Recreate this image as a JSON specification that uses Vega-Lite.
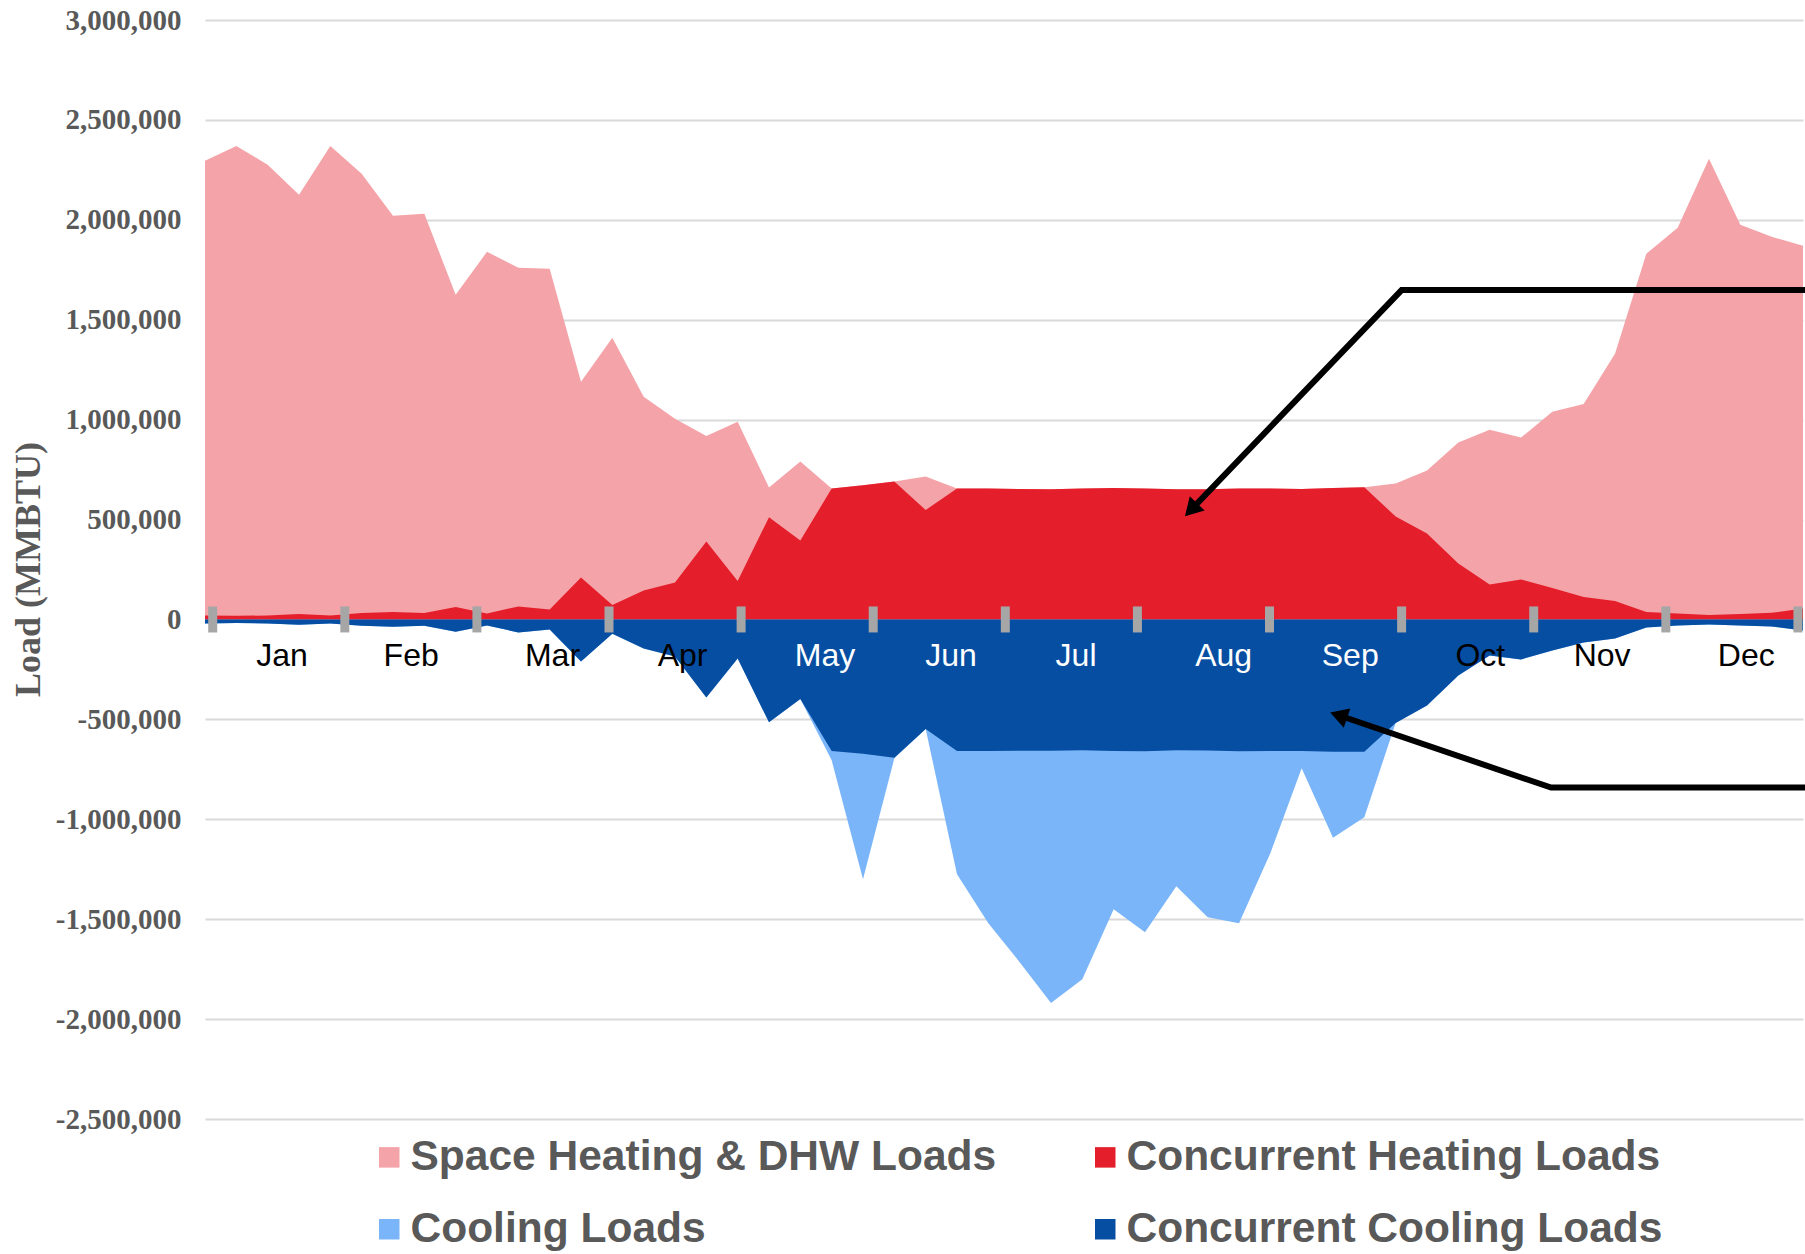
{
  "$schema": "https://vega.github.io/schema/vega-lite/v6.json",
  "width": 1598,
  "height": 1099,
  "autosize": {"type": "none"},
  "padding": {"left": 205, "top": 20, "right": 2, "bottom": 135},
  "background": "white",
  "config": {
    "view": {"stroke": null},
    "font": "Liberation Sans",
    "axisY": {
      "grid": true, "gridColor": "#D9D9D9", "gridWidth": 2,
      "domain": false, "ticks": false,
      "labelFont": "Liberation Serif", "labelFontWeight": "bold", "labelFontSize": 29,
      "labelColor": "#595959", "labelPadding": 24,
      "titleFont": "Liberation Serif", "titleFontSize": 36, "titleFontWeight": "bold",
      "titleColor": "#595959", "titleX": -166, "titleY": 549,
      "titleBaseline": "alphabetic", "titleAngle": -90, "titleAlign": "center"
    }
  },
  "datasets": {
    "loads": [
      {"week": 0, "heating": 2295000, "concHeat": 20000, "cooling": -20000, "concCool": -20000},
      {"week": 1, "heating": 2370000, "concHeat": 18000, "cooling": -18000, "concCool": -18000},
      {"week": 2, "heating": 2275000, "concHeat": 20000, "cooling": -20000, "concCool": -20000},
      {"week": 3, "heating": 2125000, "concHeat": 27000, "cooling": -27000, "concCool": -27000},
      {"week": 4, "heating": 2370000, "concHeat": 20000, "cooling": -20000, "concCool": -20000},
      {"week": 5, "heating": 2230000, "concHeat": 32000, "cooling": -32000, "concCool": -32000},
      {"week": 6, "heating": 2020000, "concHeat": 37000, "cooling": -37000, "concCool": -37000},
      {"week": 7, "heating": 2030000, "concHeat": 32000, "cooling": -32000, "concCool": -32000},
      {"week": 8, "heating": 1625000, "concHeat": 62000, "cooling": -62000, "concCool": -62000},
      {"week": 9, "heating": 1840000, "concHeat": 30000, "cooling": -30000, "concCool": -30000},
      {"week": 10, "heating": 1760000, "concHeat": 65000, "cooling": -65000, "concCool": -65000},
      {"week": 11, "heating": 1755000, "concHeat": 50000, "cooling": -50000, "concCool": -50000},
      {"week": 12, "heating": 1190000, "concHeat": 210000, "cooling": -210000, "concCool": -210000},
      {"week": 13, "heating": 1410000, "concHeat": 72000, "cooling": -72000, "concCool": -72000},
      {"week": 14, "heating": 1115000, "concHeat": 145000, "cooling": -145000, "concCool": -145000},
      {"week": 15, "heating": 1005000, "concHeat": 185000, "cooling": -185000, "concCool": -185000},
      {"week": 16, "heating": 918000, "concHeat": 390000, "cooling": -390000, "concCool": -390000},
      {"week": 17, "heating": 990000, "concHeat": 192000, "cooling": -195000, "concCool": -195000},
      {"week": 18, "heating": 660000, "concHeat": 512000, "cooling": -515000, "concCool": -515000},
      {"week": 19, "heating": 790000, "concHeat": 395000, "cooling": -398000, "concCool": -398000},
      {"week": 20, "heating": 655000, "concHeat": 655000, "cooling": -705000, "concCool": -658000},
      {"week": 21, "heating": 672000, "concHeat": 672000, "cooling": -1300000, "concCool": -672000},
      {"week": 22, "heating": 690000, "concHeat": 690000, "cooling": -695000, "concCool": -692000},
      {"week": 23, "heating": 715000, "concHeat": 548000, "cooling": -548000, "concCool": -548000},
      {"week": 24, "heating": 655000, "concHeat": 655000, "cooling": -1275000, "concCool": -658000},
      {"week": 25, "heating": 655000, "concHeat": 655000, "cooling": -1520000, "concCool": -658000},
      {"week": 26, "heating": 653000, "concHeat": 653000, "cooling": -1715000, "concCool": -657000},
      {"week": 27, "heating": 652000, "concHeat": 652000, "cooling": -1920000, "concCool": -657000},
      {"week": 28, "heating": 655000, "concHeat": 655000, "cooling": -1800000, "concCool": -655000},
      {"week": 29, "heating": 658000, "concHeat": 658000, "cooling": -1450000, "concCool": -658000},
      {"week": 30, "heating": 655000, "concHeat": 655000, "cooling": -1565000, "concCool": -660000},
      {"week": 31, "heating": 652000, "concHeat": 652000, "cooling": -1335000, "concCool": -655000},
      {"week": 32, "heating": 652000, "concHeat": 652000, "cooling": -1490000, "concCool": -656000},
      {"week": 33, "heating": 655000, "concHeat": 655000, "cooling": -1520000, "concCool": -660000},
      {"week": 34, "heating": 655000, "concHeat": 655000, "cooling": -1170000, "concCool": -658000},
      {"week": 35, "heating": 653000, "concHeat": 653000, "cooling": -745000, "concCool": -658000},
      {"week": 36, "heating": 658000, "concHeat": 658000, "cooling": -1092000, "concCool": -662000},
      {"week": 37, "heating": 662000, "concHeat": 662000, "cooling": -990000, "concCool": -662000},
      {"week": 38, "heating": 680000, "concHeat": 515000, "cooling": -518000, "concCool": -518000},
      {"week": 39, "heating": 745000, "concHeat": 430000, "cooling": -430000, "concCool": -430000},
      {"week": 40, "heating": 885000, "concHeat": 280000, "cooling": -280000, "concCool": -280000},
      {"week": 41, "heating": 950000, "concHeat": 175000, "cooling": -180000, "concCool": -180000},
      {"week": 42, "heating": 910000, "concHeat": 200000, "cooling": -200000, "concCool": -200000},
      {"week": 43, "heating": 1040000, "concHeat": 158000, "cooling": -155000, "concCool": -155000},
      {"week": 44, "heating": 1078000, "concHeat": 112000, "cooling": -115000, "concCool": -115000},
      {"week": 45, "heating": 1330000, "concHeat": 92000, "cooling": -95000, "concCool": -95000},
      {"week": 46, "heating": 1830000, "concHeat": 37000, "cooling": -40000, "concCool": -40000},
      {"week": 47, "heating": 1960000, "concHeat": 30000, "cooling": -30000, "concCool": -30000},
      {"week": 48, "heating": 2305000, "concHeat": 22000, "cooling": -25000, "concCool": -25000},
      {"week": 49, "heating": 1975000, "concHeat": 27000, "cooling": -30000, "concCool": -30000},
      {"week": 50, "heating": 1915000, "concHeat": 33000, "cooling": -35000, "concCool": -35000},
      {"week": 51, "heating": 1870000, "concHeat": 55000, "cooling": -55000, "concCool": -55000}
    ],
    "months": [
      {"month": "Jan", "mid": 2.46}, {"month": "Feb", "mid": 6.58}, {"month": "Mar", "mid": 11.09},
      {"month": "Apr", "mid": 15.24}, {"month": "May", "mid": 19.79}, {"month": "Jun", "mid": 23.81},
      {"month": "Jul", "mid": 27.8}, {"month": "Aug", "mid": 32.51}, {"month": "Sep", "mid": 36.55},
      {"month": "Oct", "mid": 40.7}, {"month": "Nov", "mid": 44.59}, {"month": "Dec", "mid": 49.19}
    ],
    "bounds": [
      {"b": 0.246}, {"b": 4.462}, {"b": 8.678}, {"b": 12.894}, {"b": 17.11}, {"b": 21.326},
      {"b": 25.542}, {"b": 29.758}, {"b": 33.974}, {"b": 38.19}, {"b": 42.406}, {"b": 46.622}, {"b": 50.838}
    ],
    "arrows": [
      {"arrow": "heat", "seq": 0, "week": 51.07, "value": 1648500},
      {"arrow": "heat", "seq": 1, "week": 38.19, "value": 1648500},
      {"arrow": "heat", "seq": 2, "week": 31.47, "value": 548500},
      {"arrow": "cool", "seq": 0, "week": 51.07, "value": -841500},
      {"arrow": "cool", "seq": 1, "week": 42.96, "value": -841500},
      {"arrow": "cool", "seq": 2, "week": 36.18, "value": -479500}
    ]
  },
  "layer": [
    {
      "data": {"name": "loads"},
      "mark": {"type": "area", "opacity": 1, "interpolate": "linear"},
      "encoding": {
        "x": {"field": "week", "type": "quantitative", "scale": {"domain": [0, 51], "nice": false, "zero": false}, "axis": null},
        "y": {"field": "heating", "type": "quantitative", "stack": null,
              "scale": {"domain": [-2500000, 3000000], "nice": false},
              "title": "Load (MMBTU)",
              "axis": {"values": [-2500000, -2000000, -1500000, -1000000, -500000, 0, 500000, 1000000, 1500000, 2000000, 2500000, 3000000],
                       "labelExpr": "(datum.value < 0 ? '-' : '') + format(abs(datum.value), ',')"}},
        "color": {"datum": "Space Heating & DHW Loads", "type": "nominal",
                  "scale": {"domain": ["Space Heating & DHW Loads", "Cooling Loads", "Concurrent Heating Loads", "Concurrent Cooling Loads"],
                            "range": ["#F4A4A9", "#7BB5F9", "#E41F2B", "#064EA2"]},
                  "legend": {"orient": "none", "legendX": 163, "legendY": 1116, "columns": 2, "title": null,
                             "symbolType": "square", "symbolSize": 420, "symbolStrokeWidth": 0, "symbolOpacity": 1,
                             "labelFont": "Liberation Sans", "labelFontSize": 42.5, "labelFontWeight": "bold",
                             "labelColor": "#595959", "labelLimit": 900, "labelOffset": 0,
                             "columnPadding": 87, "rowPadding": 29, "padding": 0}}
      }
    },
    {
      "data": {"name": "loads"},
      "mark": {"type": "area", "opacity": 1, "interpolate": "linear"},
      "encoding": {
        "x": {"field": "week", "type": "quantitative", "axis": null},
        "y": {"field": "cooling", "type": "quantitative", "stack": null, "title": "Load (MMBTU)"},
        "color": {"datum": "Cooling Loads", "type": "nominal"}
      }
    },
    {
      "data": {"name": "loads"},
      "mark": {"type": "area", "opacity": 1, "interpolate": "linear"},
      "encoding": {
        "x": {"field": "week", "type": "quantitative", "axis": null},
        "y": {"field": "concHeat", "type": "quantitative", "stack": null, "title": "Load (MMBTU)"},
        "color": {"datum": "Concurrent Heating Loads", "type": "nominal"}
      }
    },
    {
      "data": {"name": "loads"},
      "mark": {"type": "area", "opacity": 1, "interpolate": "linear"},
      "encoding": {
        "x": {"field": "week", "type": "quantitative", "axis": null},
        "y": {"field": "concCool", "type": "quantitative", "stack": null, "title": "Load (MMBTU)"},
        "color": {"datum": "Concurrent Cooling Loads", "type": "nominal"}
      }
    },
    {
      "mark": {"type": "rule", "color": "#A6A6A6", "strokeWidth": 4},
      "encoding": {"y": {"datum": 0}}
    },
    {
      "data": {"name": "bounds"},
      "mark": {"type": "tick", "orient": "vertical", "color": "#A6A6A6", "thickness": 9, "size": 26, "opacity": 1},
      "encoding": {
        "x": {"field": "b", "type": "quantitative", "axis": null},
        "y": {"datum": 0}
      }
    },
    {
      "data": {"name": "months"},
      "mark": {"type": "text", "font": "Liberation Sans", "fontSize": 32, "baseline": "alphabetic", "align": "center", "dy": 47},
      "encoding": {
        "x": {"field": "mid", "type": "quantitative", "axis": null},
        "y": {"datum": 0},
        "text": {"field": "month"},
        "color": {"condition": {"test": "indexof(['May','Jun','Jul','Aug','Sep'], datum.month) >= 0", "value": "#FFFFFF"}, "value": "#000000"}
      }
    },
    {
      "data": {"name": "arrows"},
      "mark": {"type": "line", "color": "#000000", "strokeWidth": 6, "strokeJoin": "miter"},
      "encoding": {
        "x": {"field": "week", "type": "quantitative", "axis": null},
        "y": {"field": "value", "type": "quantitative"},
        "detail": {"field": "arrow"},
        "order": {"field": "seq", "type": "quantitative"}
      }
    },
    {
      "data": {"name": "arrows"},
      "transform": [{"filter": "datum.arrow == 'heat' && datum.seq == 2"}],
      "mark": {"type": "point", "shape": "triangle-up", "filled": true, "color": "#000000", "opacity": 1, "size": 420, "angle": 223.7},
      "encoding": {
        "x": {"field": "week", "type": "quantitative", "axis": null},
        "y": {"field": "value", "type": "quantitative"}
      }
    },
    {
      "data": {"name": "arrows"},
      "transform": [{"filter": "datum.arrow == 'cool' && datum.seq == 2"}],
      "mark": {"type": "point", "shape": "triangle-up", "filled": true, "color": "#000000", "opacity": 1, "size": 420, "angle": 288.8},
      "encoding": {
        "x": {"field": "week", "type": "quantitative", "axis": null},
        "y": {"field": "value", "type": "quantitative"}
      }
    }
  ]
}
